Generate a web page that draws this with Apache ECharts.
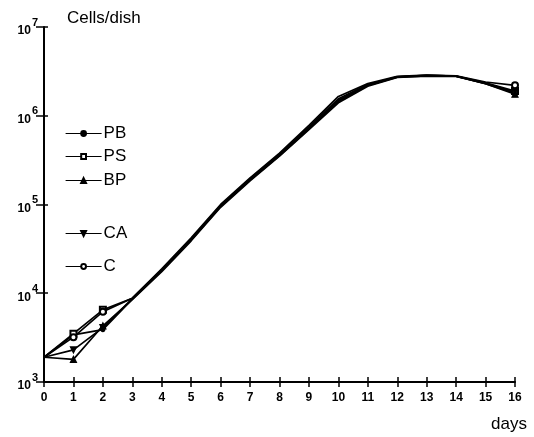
<!DOCTYPE html>
<html><head><meta charset="utf-8">
<script src="https://cdn.jsdelivr.net/npm/echarts@6/dist/echarts.min.js"></script>
<style>html,body{margin:0;padding:0;background:#fff}#c{width:534px;height:437px}</style>
</head><body><div id="c"></div>
<script>
var days = [0,1,2,3,4,5,6,7,8,9,10,11,12,13,14,15,16];
var yTicks = [1000,10000,100000,1000000,10000000];
var names = ['PB','PS','BP','CA','C'];
var PB = [1900,3400,3900,8600,18000,40000,96000,190000,360000,720000,1450000,2200000,2750000,2850000,2800000,2300000,1800000];
var PS = [1900,3500,6500,8800,18500,41000,98000,195000,370000,750000,1550000,2250000,2750000,2850000,2800000,2350000,1900000];
var BP = [1900,1800,4300,8500,17500,39000,93000,185000,350000,700000,1400000,2150000,2700000,2800000,2780000,2300000,1750000];
var CA = [1900,2300,4100,8700,18200,40500,95000,190000,355000,710000,1500000,2200000,2720000,2820000,2790000,2320000,1850000];
var C  = [1900,3200,6200,8800,18800,42000,100000,200000,380000,780000,1650000,2300000,2780000,2870000,2820000,2400000,2200000];

var symbols = {PB:['circle',4], PS:['emptyRect',6], BP:['triangle',6], CA:['path://M0,0 L10,0 L5,9 Z',6], C:['emptyCircle',6]};
var dataMap = {PB:PB, PS:PS, BP:BP, CA:CA, C:C};
var legendTops = [120, 143, 167, 220, 253];

function mk(name){
  var vals = dataMap[name];
  return {
    name: name, type:'line', xAxisIndex:0, yAxisIndex:0,
    symbol: symbols[name][0], symbolSize: symbols[name][1],
    lineStyle:{color:'#000', width:1.7},
    itemStyle:{color:'#000', borderColor:'#000', borderWidth:1.2},
    data: vals.map(function(v,i){
      var show = (i>=1 && i<=2) || i===16;
      return {value:[days[i], v], symbolSize: show ? symbols[name][1] : 0};
    }),
    z: 3
  };
}

var chart = echarts.init(document.getElementById('c'));
chart.setOption({
  animation:false,
  backgroundColor:'#fff',
  grid:{left:44, right:19, top:27, bottom:55},
  legend: names.map(function(n,i){
    return {data:[n], left:60, top:legendTops[i], orient:'vertical',
      itemWidth:36, itemHeight:6, itemGap:0,
      lineStyle:{width:1.2},
      textStyle:{fontSize:17, color:'#000', fontFamily:'Liberation Sans, Arial, sans-serif', padding:[0,0,0,-3]}};
  }),
  xAxis:[{
    type:'value', min:0, max:16, interval:1,
    axisLine:{lineStyle:{color:'#000', width:2}},
    axisTick:{show:true, length:5, lineStyle:{color:'#000', width:1.5}},
    axisLabel:{color:'#000', fontSize:12, fontWeight:'bold', margin:10, fontFamily:'Liberation Sans, Arial, sans-serif'},
    splitLine:{show:false}
  },{
    type:'value', min:0, max:16, interval:1, position:'bottom',
    axisLine:{show:false},
    axisTick:{show:true, inside:true, length:5, lineStyle:{color:'#000', width:1.5}},
    axisLabel:{show:false}, splitLine:{show:false}
  }],
  yAxis:[{
    type:'log', min:1000, max:10000000, logBase:10,
    axisLine:{show:true, lineStyle:{color:'#000', width:2}},
    axisTick:{show:true, length:8, lineStyle:{color:'#000', width:1.5}},
    axisLabel:{color:'#000', margin:6, fontFamily:'Liberation Sans, Arial, sans-serif',
      formatter:function(v){ var e=Math.round(Math.log10(v)); return '{b|10}{s|'+e+'}'; },
      rich:{b:{fontSize:12, fontWeight:'bold', color:'#000', verticalAlign:'bottom', padding:[7,0,0,0]}, s:{fontSize:11, fontWeight:'bold', color:'#000', verticalAlign:'top', padding:[0,0,9,1]}}},
    splitLine:{show:false}
  },{
    type:'log', min:1000, max:10000000, logBase:10, position:'left',
    axisLine:{show:false},
    axisTick:{show:true, inside:true, length:4, lineStyle:{color:'#000', width:1.5}},
    axisLabel:{show:false}, splitLine:{show:false}
  }],
  graphic:[
    {type:'text', left:67, top:10, style:{text:'Cells/dish', fontSize:17, fill:'#000', fontFamily:'Liberation Sans, Arial, sans-serif'}},
    {type:'text', left:491, top:416, style:{text:'days', fontSize:17, fill:'#000', fontFamily:'Liberation Sans, Arial, sans-serif'}}
  ],
  series: names.map(mk)
});
</script></body></html>
